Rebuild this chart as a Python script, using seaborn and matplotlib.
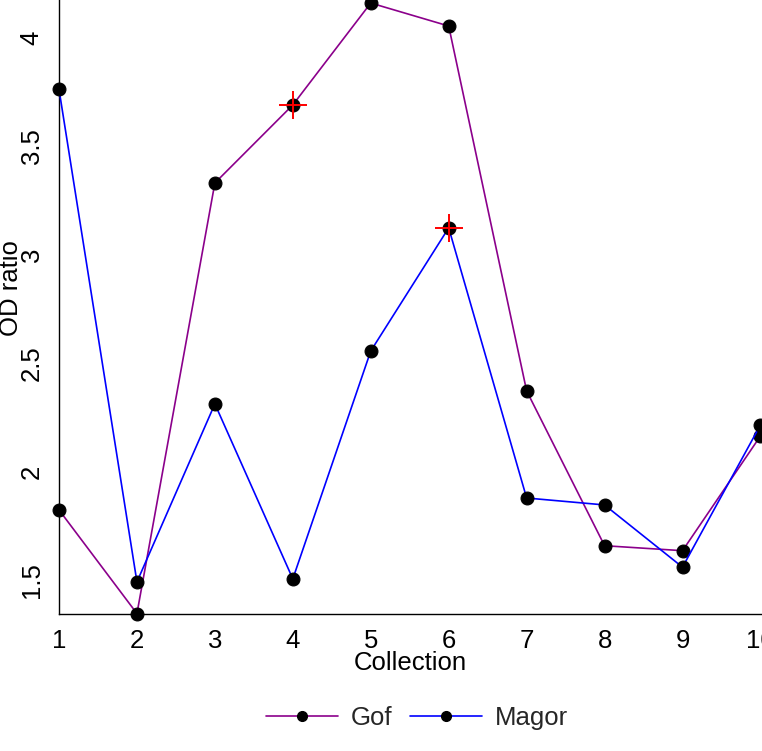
import matplotlib
matplotlib.use("Agg")
import matplotlib.pyplot as plt
from matplotlib.lines import Line2D
import seaborn as sns
import pandas as pd

collection = [1, 2, 3, 4, 5, 6, 7, 8, 9, 10]
gof = [1.823, 1.345, 3.331, 3.691, 4.161, 4.055, 2.372, 1.658, 1.635, 2.164]
magor = [3.763, 1.491, 2.312, 1.505, 2.556, 3.124, 1.878, 1.846, 1.559, 2.215]
series_names = ["Gof", "Magor"]
series_colors = ["#8B008B", "#0000FF"]
yticks = [1.5, 2, 2.5, 3, 3.5, 4]
highlight_gof = 4
highlight_magor = 6

sns.set_style("white")
plt.rcParams['font.family'] = ['Liberation Sans', 'DejaVu Sans']

df = pd.DataFrame({
    "Collection": collection * 2,
    "OD ratio": gof + magor,
    "Series": [series_names[0]] * len(gof) + [series_names[1]] * len(magor),
})

FS = 18.5

fig = plt.figure(figsize=(7.62, 7.51), dpi=100)
ax = fig.add_axes([59 / 762, 1 - 614 / 751, 1 - 59 / 762, 614 / 751])

for name, col in zip(series_names, series_colors):
    sub = df[df["Series"] == name]
    sns.lineplot(data=sub, x="Collection", y="OD ratio", ax=ax, color=col,
                 linewidth=1.2, marker="o", markersize=9.3,
                 markerfacecolor="black", markeredgecolor="black",
                 legend=False, clip_on=False, zorder=3)

# highlighted points
ax.plot([highlight_gof], [gof[collection.index(highlight_gof)]], marker="+",
        color="red", markersize=20, markeredgewidth=1.4, linestyle="none",
        zorder=4, clip_on=False)
ax.plot([highlight_magor], [magor[collection.index(highlight_magor)]], marker="+",
        color="red", markersize=20, markeredgewidth=1.4, linestyle="none",
        zorder=4, clip_on=False)

ax.set_xlim(1, 10.02)
ax.set_ylim(1.343, 4.175)
ax.set_xticks(collection)
ax.set_xticklabels([str(c) for c in collection])
ax.set_yticks(yticks)
ax.set_yticklabels([f"{t:g}" for t in yticks], rotation=90, va="center")

for s in ["top", "right"]:
    ax.spines[s].set_visible(False)
for s in ["left", "bottom"]:
    ax.spines[s].set_color("black")
    ax.spines[s].set_linewidth(1.0)

ax.tick_params(axis="both", which="major", direction="out", length=6,
               width=1.0, color="black", labelsize=FS, labelcolor="black")
ax.tick_params(axis="y", pad=5)
ax.tick_params(axis="x", pad=5)

ax.set_xlabel("Collection", fontsize=FS, color="black", labelpad=-2)
ax.set_ylabel("OD ratio", fontsize=FS, color="black")
ax.yaxis.set_label_coords(-0.051, 0.531)
ax.grid(False)

handles = [Line2D([0], [0], color=c, linewidth=1.2, marker="o", markersize=7,
                  markerfacecolor="black", markeredgecolor="black")
           for c in series_colors]
fig.legend(handles, series_names, loc="center", bbox_to_anchor=(0.547, 0.044),
           ncol=2, frameon=False, fontsize=FS, handlelength=2.8,
           columnspacing=0.7, handletextpad=0.5)

fig.savefig("out.png", dpi=100)
